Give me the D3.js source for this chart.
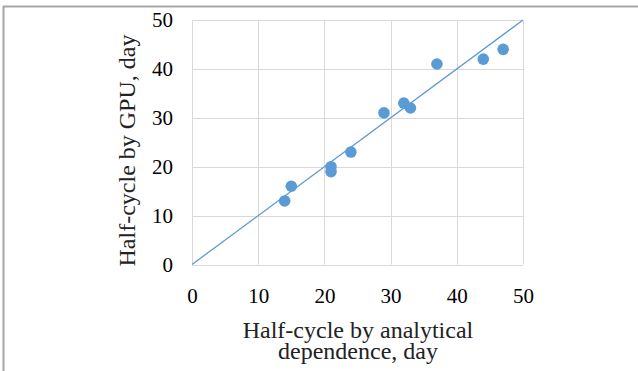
<!DOCTYPE html>
<html><head><meta charset="utf-8">
<script src="https://cdn.jsdelivr.net/npm/d3@7"></script>
<style>html,body{margin:0;padding:0;background:#fff;}svg{display:block;}</style>
</head><body>
<svg id="c" width="638" height="371"></svg>
<script>
const analytical = [14, 15, 21, 21, 24, 29, 32, 33, 37, 44, 47];
const gpu        = [13, 16, 20, 19, 23, 31, 33, 32, 41, 42, 44];
const xTicks = [0, 10, 20, 30, 40, 50];
const yTicks = [0, 10, 20, 30, 40, 50];
const lineX = [0, 50];
const lineY = [0, 50];
const xTitle = ["Half-cycle by analytical", "dependence, day"];
const yTitle = "Half-cycle by GPU, day";

const svg = d3.select("#c");
const W = 638, H = 371;
const blue = "#5b9bd5";
const font = "'Liberation Serif', 'Times New Roman', serif";

// frame lines
svg.append("line").attr("x1", 3).attr("x2", W).attr("y1", 6.5).attr("y2", 6.5).attr("stroke", "#a6a6a6").attr("stroke-width", 2);
svg.append("line").attr("x1", 3.5).attr("x2", 3.5).attr("y1", 6).attr("y2", H).attr("stroke", "#a6a6a6").attr("stroke-width", 2);

const x = d3.scaleLinear().domain([0, 50]).range([192, 523]);
const y = d3.scaleLinear().domain([0, 50]).range([264.5, 20]);

const g = svg.append("g");
// gridlines
g.selectAll(".vg").data(xTicks).join("line")
  .attr("x1", d => Math.round(x(d)) + 0.5).attr("x2", d => Math.round(x(d)) + 0.5)
  .attr("y1", y(50)).attr("y2", y(0)).attr("stroke", "#d9d9d9").attr("stroke-width", 1);
g.selectAll(".hg").data(yTicks).join("line")
  .attr("y1", d => Math.round(y(d)) + 0.5).attr("y2", d => Math.round(y(d)) + 0.5)
  .attr("x1", x(0)).attr("x2", x(50)).attr("stroke", "#d9d9d9").attr("stroke-width", 1);

// axes labels via d3 axes
const xAxis = svg.append("g").attr("transform", `translate(0,${y(0)})`)
  .call(d3.axisBottom(x).tickValues(xTicks).tickSize(0).tickPadding(23.5));
const yAxis = svg.append("g").attr("transform", `translate(${x(0)},0)`)
  .call(d3.axisLeft(y).tickValues(yTicks).tickSize(0).tickPadding(19));
[xAxis, yAxis].forEach(a => {
  a.attr("font-family", null).attr("font-size", null);
  a.select(".domain").remove();
  a.selectAll("text").style("font-family", font).style("font-size", "21px").attr("fill", "#000");
});

// reference line
svg.append("line")
  .attr("x1", x(lineX[0])).attr("y1", y(lineY[0]))
  .attr("x2", x(lineX[1])).attr("y2", y(lineY[1]))
  .attr("stroke", blue).attr("stroke-width", 1.3);

// points
svg.selectAll(".pt").data(analytical.map((a, i) => [a, gpu[i]])).join("circle")
  .attr("cx", d => x(d[0])).attr("cy", d => y(d[1])).attr("r", 5.8).attr("fill", blue);

// titles
svg.append("text").style("font-family", font).style("font-size", "24px").attr("text-anchor", "middle").attr("fill", "#222")
  .selectAll("tspan").data(xTitle).join("tspan")
  .attr("x", 358).attr("y", (d, i) => 338 + i * 21).text(d => d);

svg.append("text").style("font-family", font).style("font-size", "24px").attr("text-anchor", "middle").attr("fill", "#222")
  .attr("transform", "translate(135,150.5) rotate(-90)").text(yTitle);
</script>
</body></html>
